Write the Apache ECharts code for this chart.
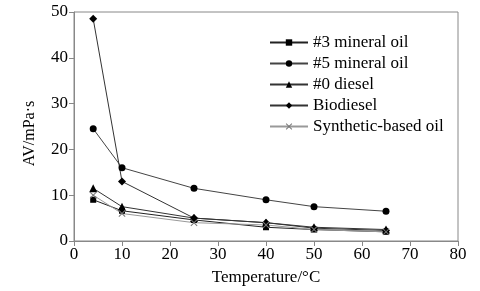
<!DOCTYPE html>
<html><head><meta charset="utf-8">
<script src="https://cdn.jsdelivr.net/npm/echarts@6/dist/echarts.min.js"></script>
<style>html,body{margin:0;padding:0;background:#fff}#c{width:480px;height:291px}</style>
</head><body><div id="c"></div>
<script>
const temps = [4, 10, 25, 40, 50, 65];
const seriesNames = ['#3 mineral oil', '#5 mineral oil', '#0 diesel', 'Biodiesel', 'Synthetic-based oil'];
const mineral3 = [9, 6.6, 4.6, 3.0, 2.5, 2.0];
const mineral5 = [24.5, 16, 11.5, 9, 7.5, 6.5];
const diesel0 = [11.5, 7.5, 5.0, 4.0, 3.0, 2.5];
const biodiesel = [48.5, 13, 5.0, 4.0, 2.8, 2.3];
const synthetic = [10, 6.0, 4.0, 3.5, 2.5, 2.0];
const xName = 'Temperature/°C';
const yName = 'AV/mPa·s';

const font = 'Liberation Serif, Times New Roman, serif';
const crossPath = 'path://M0,1L1,0L5,4L9,0L10,1L6,5L10,9L9,10L5,6L1,10L0,9L4,5Z';
const symbols = ['rect', 'circle', 'triangle', 'diamond', crossPath];
const sizes = [6, 7, 8, 8, 7];
const lineColors = ['#222', '#444', '#333', '#333', '#999'];
const markColors = ['#000', '#000', '#000', '#000', '#777'];
const allData = [mineral3, mineral5, diesel0, biodiesel, synthetic];

const chart = echarts.init(document.getElementById('c'), null, {renderer: 'canvas'});
chart.setOption({
  animation: false,
  backgroundColor: '#fff',
  grid: {left: 74, right: 22, top: 12, bottom: 48, show: true, borderColor: '#888', borderWidth: 1},
  legend: {
    left: 264, top: 29, orient: 'vertical', itemWidth: 38, itemHeight: 8, itemGap: 4,
    textStyle: {fontFamily: font, fontSize: 17, color: '#000', padding: [0, 0, 0, 0]},
    data: seriesNames
  },
  xAxis: {
    type: 'value', min: 0, max: 80, interval: 10,
    name: xName, nameLocation: 'middle', nameGap: 28,
    nameTextStyle: {fontFamily: font, fontSize: 17, color: '#000'},
    axisLine: {lineStyle: {color: '#888'}},
    axisTick: {inside: false, length: 5, lineStyle: {color: '#888'}},
    axisLabel: {fontFamily: font, fontSize: 17, color: '#000', margin: 5},
    splitLine: {show: false}
  },
  yAxis: {
    type: 'value', min: 0, max: 50, interval: 10,
    name: yName, nameLocation: 'middle', nameGap: 36,
    nameTextStyle: {fontFamily: font, fontSize: 16, color: '#000', padding: [0, 0, 0, -14]},
    axisLine: {show: true, lineStyle: {color: '#888'}},
    axisTick: {show: true, length: 5, lineStyle: {color: '#888'}},
    axisLabel: {fontFamily: font, fontSize: 17, color: '#000', margin: 6},
    splitLine: {show: false}
  },
  series: seriesNames.map((n, i) => ({
    name: n, type: 'line',
    data: temps.map((t, j) => [t, allData[i][j]]),
    symbol: symbols[i], symbolSize: sizes[i], showAllSymbol: true,
    lineStyle: {color: lineColors[i], width: 1},
    itemStyle: {color: markColors[i]}
  }))
});
</script></body></html>
